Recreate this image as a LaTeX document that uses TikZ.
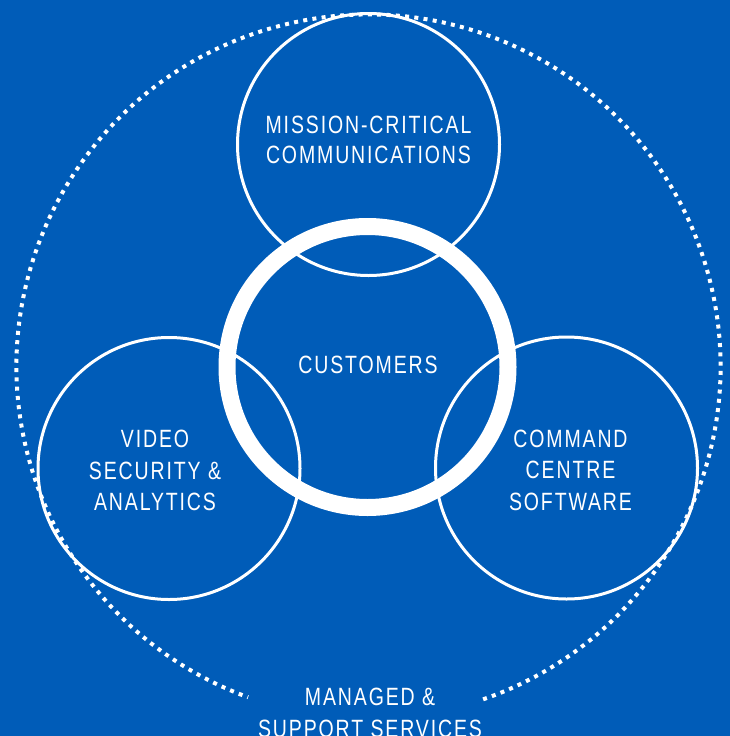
\documentclass[tikz,border=0pt]{standalone}
\usepackage{fontspec}
\setmainfont{Liberation Sans}[FakeStretch=0.78,LetterSpace=7.5]
\definecolor{bgblue}{RGB}{0,92,184}
\begin{document}
\begin{tikzpicture}[x=1pt,y=1pt,
  ring/.style={circle,draw=white,line width=3pt,minimum size=262pt,inner sep=0pt},
  core/.style={circle,draw=white,line width=17pt,minimum size=281pt,inner sep=0pt},
  lbl/.style={text=white,font=\fontsize{25}{30}\selectfont,anchor=base,inner sep=0pt}]
\fill[bgblue] (0,0) rectangle (730,-736);
\useasboundingbox (0,0) rectangle (730,-736);
% outer dotted circle
\coordinate (oc) at (368.5,-366.5);
\draw[white,line width=4pt,dash pattern=on 4pt off 5.3pt]
  (oc) ++(-71:352) arc[start angle=-71,end angle=250,radius=352];
% circles
\node[ring] (mcc) at (368.5,-144.5) {};
\node[ring] (vsa) at (169,-468.5) {};
\node[ring] (ccs) at (566.5,-468) {};
\node[core] (cus) at (367.5,-367) {};
% labels
\node[lbl] (mcc1) at (368.5,-133) {MISSION-CRITICAL};
\node[lbl] (mcc2) at (368.5,-163) {COMMUNICATIONS};
\node[lbl] (cus1) at (368,-373) {CUSTOMERS};
\node[lbl] (vsa1) at (155,-447.5) {VIDEO};
\node[lbl] (vsa2) at (155,-479) {SECURITY \&};
\node[lbl] (vsa3) at (155,-510.5) {ANALYTICS};
\node[lbl] (ccs1) at (570.5,-447) {COMMAND};
\node[lbl] (ccs2) at (570.5,-478.5) {CENTRE};
\node[lbl] (ccs3) at (570.5,-510) {SOFTWARE};
\node[lbl] (mss1) at (370,-705) {MANAGED \&};
\node[lbl] (mss2) at (370,-737) {SUPPORT SERVICES};
\end{tikzpicture}
\end{document}
